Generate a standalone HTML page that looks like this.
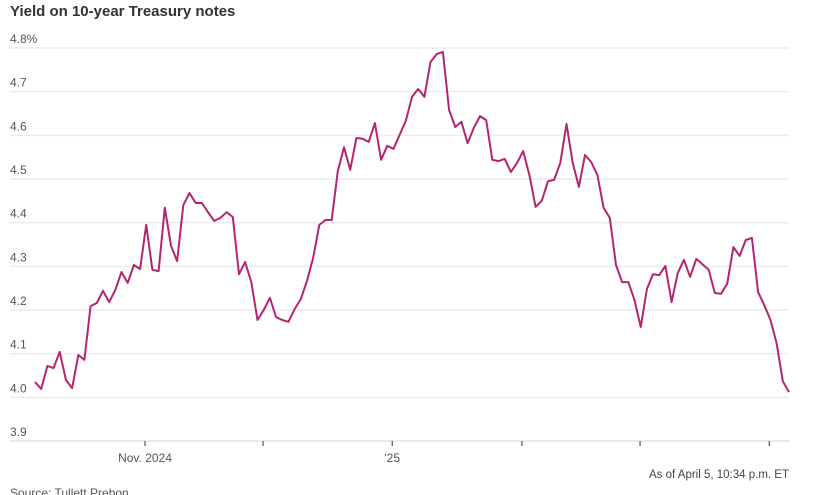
<!DOCTYPE html>
<html><head><meta charset="utf-8">
<style>
body{margin:0;background:#fff;width:815px;height:495px;overflow:hidden;font-family:"Liberation Sans",sans-serif;}
svg{display:block}
</style></head>
<body>
<svg id="chart" width="815" height="495" viewBox="0 0 815 495">
<text x="10" y="16" font-size="15" font-weight="bold" fill="#333">Yield on 10-year Treasury notes</text>
<g id="grid"></g>
<g id="xaxis"></g>
<path id="line" fill="none" stroke="#b5256f" stroke-width="2" stroke-linejoin="round"/>
<text x="789" y="478" font-size="11.5" fill="#444" text-anchor="end">As of April 5, 10:34 p.m. ET</text>
<text x="10" y="497" font-size="12" fill="#555">Source: Tullett Prebon</text>
</svg>
<script>
const yTicks=[3.9,4.0,4.1,4.2,4.3,4.4,4.5,4.6,4.7,4.8];
const yTickLabels=["3.9","4.0","4.1","4.2","4.3","4.4","4.5","4.6","4.7","4.8%"];
const xTickIdx=[17.8,36.9,57.8,78.8,97.9,118.8];
const xTickLabels=["Nov. 2024","","'25","","",""];
const yields=[4.035,4.019,4.072,4.067,4.104,4.040,4.021,4.097,4.086,4.209,4.216,4.244,4.218,4.246,4.287,4.262,4.303,4.294,4.395,4.292,4.289,4.434,4.347,4.312,4.440,4.468,4.445,4.445,4.424,4.404,4.411,4.424,4.413,4.282,4.310,4.264,4.177,4.200,4.228,4.184,4.177,4.173,4.202,4.225,4.266,4.319,4.395,4.406,4.406,4.518,4.573,4.521,4.594,4.592,4.585,4.628,4.544,4.576,4.569,4.601,4.633,4.688,4.706,4.688,4.768,4.786,4.791,4.658,4.619,4.631,4.582,4.617,4.644,4.635,4.544,4.541,4.546,4.516,4.537,4.564,4.509,4.436,4.450,4.495,4.498,4.537,4.626,4.537,4.482,4.555,4.539,4.509,4.434,4.411,4.303,4.264,4.264,4.223,4.161,4.248,4.282,4.280,4.301,4.218,4.285,4.315,4.276,4.317,4.305,4.292,4.239,4.237,4.260,4.344,4.324,4.360,4.365,4.241,4.211,4.177,4.124,4.037,4.012];
const NS="http://www.w3.org/2000/svg";
const x0=35,x1=789,yTop=48,yBot=441;
const n=yields.length;
function X(i){return x0+(x1-x0)*i/(n-1);}
function Y(v){return yBot-(v-3.9)/(4.8-3.9)*(yBot-yTop);}
const grid=document.getElementById('grid');
yTicks.forEach((v,k)=>{
  const l=document.createElementNS(NS,'line');
  l.setAttribute('x1',10);l.setAttribute('x2',789);
  l.setAttribute('y1',Y(v));l.setAttribute('y2',Y(v));
  l.setAttribute('stroke',k===0?'#e2e2e2':'#ececec');l.setAttribute('stroke-width','1.5');
  
  
  grid.appendChild(l);
  const t=document.createElementNS(NS,'text');
  t.setAttribute('x',10);t.setAttribute('y',Y(v)-5);
  t.setAttribute('font-size','12');t.setAttribute('fill','#555');
  t.textContent=yTickLabels[k];
  
  
  grid.appendChild(t);
});
const xa=document.getElementById('xaxis');
xTickIdx.forEach((idx,k)=>{
  const x=X(idx);
  const l=document.createElementNS(NS,'line');
  l.setAttribute('x1',x);l.setAttribute('x2',x);
  l.setAttribute('y1',yBot);l.setAttribute('y2',yBot+5);
  l.setAttribute('stroke','#333');l.setAttribute('stroke-width','1');
  
  
  xa.appendChild(l);
  if(xTickLabels[k]){
    const t=document.createElementNS(NS,'text');
    t.setAttribute('x',x);t.setAttribute('y',yBot+21);
    t.setAttribute('text-anchor','middle');
    t.setAttribute('font-size','12');t.setAttribute('fill','#555');
    t.textContent=xTickLabels[k];
    
    
    xa.appendChild(t);
  }
});
let d='';
yields.forEach((v,i)=>{d+=(i?'L':'M')+X(i).toFixed(1)+','+Y(v).toFixed(1);});
document.getElementById('line').setAttribute('d',d);
</script>
</body></html>
